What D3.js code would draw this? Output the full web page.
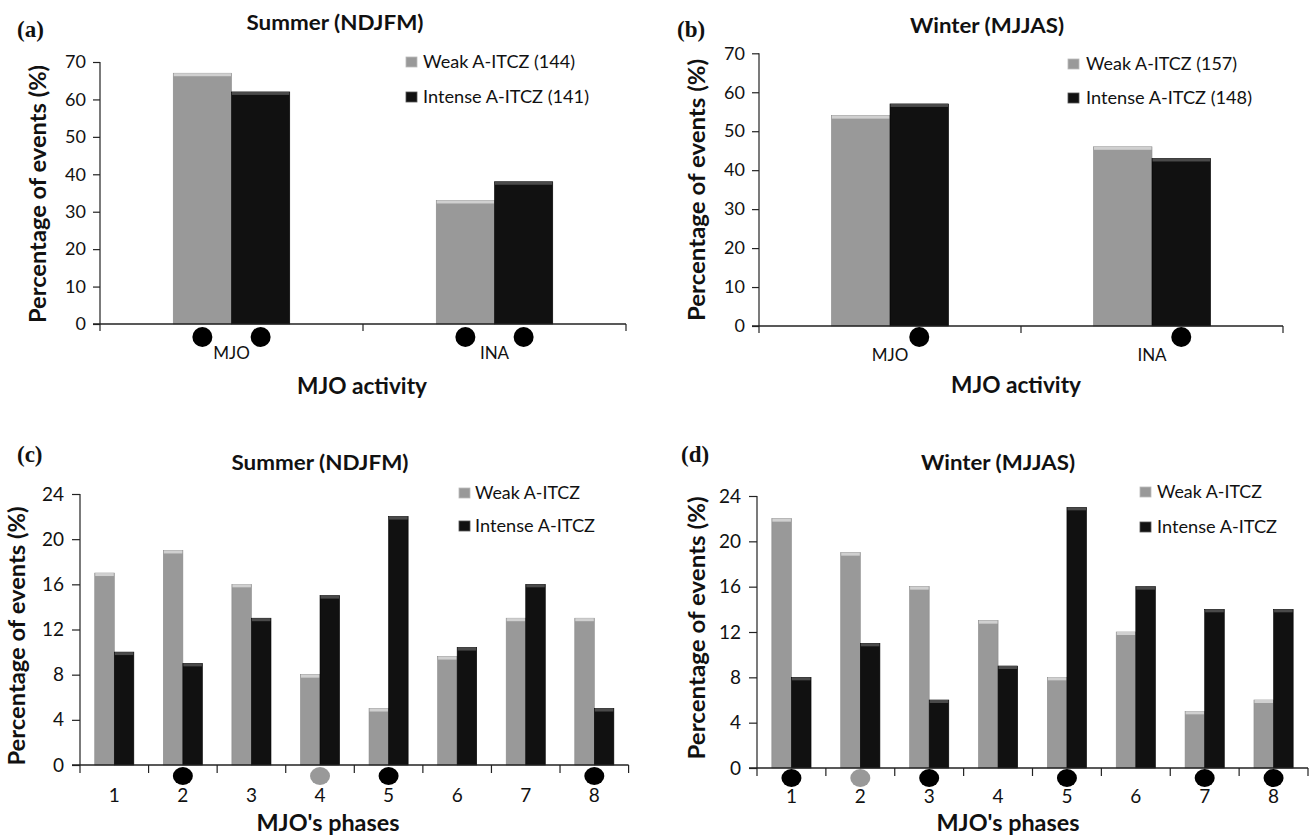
<!DOCTYPE html>
<html><head><meta charset="utf-8">
<script src="https://cdn.jsdelivr.net/npm/d3@7"></script>
<style>body{margin:0;background:#fff}svg{display:block}text{font-family:Lato,"Open Sans",sans-serif;fill:#111}</style>
</head><body>
<script>
// ---- data ----
const activityCats = ["MJO", "INA"];
const summerActWeak = [67, 33];
const summerActIntense = [62, 38];
const winterActWeak = [54, 46];
const winterActIntense = [57, 43];
// significance markers for panels a/b: per series
const summerActMarkWeak = [true, true];
const summerActMarkIntense = [true, true];
const winterActMarkWeak = [false, false];
const winterActMarkIntense = [true, true];

const phaseCats = ["1","2","3","4","5","6","7","8"];
const summerPhaseWeak = [17, 19, 16, 8, 5, 9.6, 13, 13];
const summerPhaseIntense = [10, 9, 13, 15, 22, 10.4, 16, 5];
const winterPhaseWeak = [22, 19, 16, 13, 8, 12, 5, 6];
const winterPhaseIntense = [8, 11, 6, 9, 23, 16, 14, 14];
// significance markers for panels c/d: per phase (group centre)
const summerPhaseMark = [null, "black", null, "gray", "black", null, null, "black"];
const winterPhaseMark = ["black", "gray", "black", null, "black", null, "black", "black"];

const actTicks = [0,10,20,30,40,50,60,70];
const phaseTicks = [0,4,8,12,16,20,24];

const W = 1314, H = 837;
const svg = d3.select("body").append("svg").attr("width", W).attr("height", H);

const COL = {weak:"#999999", weakTop:"#d0d0d0", intense:"#111111", intenseTop:"#4a4a4a", gray:"#999999"};

function fitText(sel, len) {
  if (len) sel.attr("textLength", len).attr("lengthAdjust", "spacingAndGlyphs");
  return sel;
}

function panel(o) {
  const g = svg.append("g");
  const y = d3.scaleLinear().domain([0, o.ymax]).range([o.y0, o.y1]);
  const x = d3.scaleBand().domain(o.cats).range([o.x0, o.x1]).paddingInner(0).paddingOuter(0);
  const gw = x.bandwidth() * o.groupFrac;
  const xs = d3.scaleBand().domain(["weak","intense"]).range([0, gw]);
  const rows = o.cats.map((c,i)=>({c, i, weak:o.weak[i], intense:o.intense[i]}));

  // bars
  ["weak","intense"].forEach(s => {
    const bx = d => x(d.c) + x.bandwidth()/2 - gw/2 + xs(s);
    g.selectAll(null).data(rows).enter().append("rect")
      .attr("x", bx).attr("width", xs.bandwidth())
      .attr("y", d => y(d[s])).attr("height", d => y(0) - y(d[s]))
      .attr("fill", COL[s]).attr("stroke", s==="weak" ? "#8a8a8a" : "#000").attr("stroke-width", 0.6);
    g.selectAll(null).data(rows).enter().append("rect")
      .attr("x", d => bx(d) + 0.5).attr("width", xs.bandwidth() - 1)
      .attr("y", d => y(d[s])).attr("height", 3)
      .attr("fill", COL[s+"Top"]);
  });

  // y axis
  const ya = g.append("g").attr("transform", `translate(${o.x0},0)`)
    .call(d3.axisLeft(y).tickValues(o.ticks).tickSize(o.tickSize).tickPadding(o.tickPad));
  ya.select(".domain").attr("stroke", "#222").attr("stroke-width", 1.2).attr("d", `M0,${y(o.ymax)}V${y(0)}`);
  ya.selectAll(".tick line").attr("stroke", "#222").attr("stroke-width", 1.2);
  ya.selectAll(".tick text").style("font-size", o.tickFont + "px").style("font-family", "Lato,sans-serif").attr("fill", "#111");

  // x axis line + boundary ticks
  g.append("line").attr("x1", o.x0 - o.tickSize).attr("x2", o.x1).attr("y1", y(0)).attr("y2", y(0))
    .attr("stroke", "#222").attr("stroke-width", 1.5);
  const bounds = o.cats.map(c => x(c)).concat([o.x1]);
  g.selectAll(null).data(bounds).enter().append("line")
    .attr("x1", d => d).attr("x2", d => d).attr("y1", y(0)).attr("y2", y(0) + o.xTick)
    .attr("stroke", "#222").attr("stroke-width", 1.2);

  // markers
  if (o.markWeak) {
    ["weak","intense"].forEach(s => {
      const m = s === "weak" ? o.markWeak : o.markIntense;
      g.selectAll(null).data(rows.filter(d => m[d.i])).enter().append("ellipse")
        .attr("cx", d => x(d.c) + x.bandwidth()/2 - gw/2 + xs(s) + xs.bandwidth()/2)
        .attr("cy", y(0) + o.markDy).attr("rx", o.markRx).attr("ry", o.markRy)
        .attr("fill", "#000");
    });
  }
  if (o.markGroup) {
    g.selectAll(null).data(rows.filter(d => o.markGroup[d.i])).enter().append("ellipse")
      .attr("cx", d => x(d.c) + x.bandwidth()/2)
      .attr("cy", y(0) + o.markDy).attr("rx", o.markRx).attr("ry", o.markRy)
      .attr("fill", d => o.markGroup[d.i] === "gray" ? COL.gray : "#000");
  }

  // category labels
  g.selectAll(null).data(rows).enter().append("text")
    .attr("x", d => x(d.c) + x.bandwidth()/2).attr("y", o.catLabelY)
    .attr("text-anchor", "middle").style("font-size", o.catFont + "px").text(d => d.c);

  // titles
  fitText(g.append("text").attr("x", o.titleX).attr("y", o.titleY).attr("text-anchor", "middle")
    .style("font-size", "20px").style("font-weight", "bold").text(o.title), o.titleLen);
  g.append("text").attr("x", o.tagX).attr("y", o.tagY)
    .style("font-family", "'Liberation Serif',serif").style("font-size", "23px").style("font-weight", "bold").text(o.tag);
  fitText(g.append("text").attr("x", o.xlabX).attr("y", o.xlabY).attr("text-anchor", "middle")
    .style("font-size", "22px").style("font-weight", "bold").text(o.xlab), o.xlabLen);
  fitText(g.append("text").attr("transform", `translate(${o.ylabX},${o.ylabY}) rotate(-90)`).attr("text-anchor", "middle")
    .attr("dy", "0.35em")
    .style("font-size", "23px").style("font-weight", "bold").text("Percentage of events (%)"), o.ylabLen);

  // legend
  const leg = [{k:"weak", t:o.legWeak, len:o.legLen[0]}, {k:"intense", t:o.legIntense, len:o.legLen[1]}];
  leg.forEach((l, i) => {
    const ly = o.legY[i];
    g.append("rect").attr("x", o.legX).attr("y", ly - 5).attr("width", 11).attr("height", 10)
      .attr("fill", COL[l.k]).attr("stroke", l.k==="weak" ? "#bbb" : "#555").attr("stroke-width", 0.8);
    fitText(g.append("text").attr("x", o.legTextX).attr("y", ly).attr("dy", "0.36em")
      .style("font-size", o.legFont + "px").text(l.t), l.len);
  });
}

panel({cats:activityCats, weak:summerActWeak, intense:summerActIntense, ymax:70, ticks:actTicks,
  x0:100, x1:626, y0:324, y1:62, groupFrac:0.443, tickFont:18, tickSize:7, tickPad:7, xTick:7,
  catFont:17, catLabelY:359,
  markWeak:summerActMarkWeak, markIntense:summerActMarkIntense, markDy:13, markRx:10, markRy:10,
  title:"Summer (NDJFM)", titleLen:177, titleX:335, titleY:30, tag:"(a)", tagX:17, tagY:37,
  xlab:"MJO activity", xlabLen:130, xlabX:362, xlabY:394, ylabX:38, ylabY:194, ylabLen:258,
  legWeak:"Weak A-ITCZ (144)", legIntense:"Intense A-ITCZ (141)", legLen:[152,166],
  legX:406, legTextX:423, legY:[62,97], legFont:18});

panel({cats:activityCats, weak:winterActWeak, intense:winterActIntense, ymax:70, ticks:actTicks,
  x0:759, x1:1283, y0:326, y1:53.3, groupFrac:0.447, tickFont:18, tickSize:7, tickPad:7, xTick:7,
  catFont:17, catLabelY:361,
  markWeak:winterActMarkWeak, markIntense:winterActMarkIntense, markDy:11, markRx:10, markRy:10,
  title:"Winter (MJJAS)", titleLen:154, titleX:987, titleY:33, tag:"(b)", tagX:677, tagY:37,
  xlab:"MJO activity", xlabLen:130, xlabX:1016, xlabY:393, ylabX:697, ylabY:190, ylabLen:262,
  legWeak:"Weak A-ITCZ (157)", legIntense:"Intense A-ITCZ (148)", legLen:[151,166],
  legX:1068, legTextX:1086, legY:[64,98], legFont:18});

panel({cats:phaseCats, weak:summerPhaseWeak, intense:summerPhaseIntense, ymax:24, ticks:phaseTicks,
  x0:80, x1:628.6, y0:765, y1:494, groupFrac:0.57, tickFont:19, tickSize:8, tickPad:8, xTick:8,
  catFont:19, catLabelY:802,
  markGroup:summerPhaseMark, markDy:11, markRx:10, markRy:9,
  title:"Summer (NDJFM)", titleLen:177, titleX:320, titleY:470, tag:"(c)", tagX:17, tagY:462,
  xlab:"MJO's phases", xlabLen:143, xlabX:328, xlabY:831, ylabX:17, ylabY:636, ylabLen:259,
  legWeak:"Weak A-ITCZ", legIntense:"Intense A-ITCZ", legLen:[105,120],
  legX:459, legTextX:475, legY:[493,526], legFont:18});

panel({cats:phaseCats, weak:winterPhaseWeak, intense:winterPhaseIntense, ymax:24, ticks:phaseTicks,
  x0:757, x1:1308, y0:768, y1:496, groupFrac:0.569, tickFont:19, tickSize:8, tickPad:8, xTick:8,
  catFont:19, catLabelY:803,
  markGroup:winterPhaseMark, markDy:10, markRx:10, markRy:9,
  title:"Winter (MJJAS)", titleLen:154, titleX:998, titleY:470, tag:"(d)", tagX:681, tagY:462,
  xlab:"MJO's phases", xlabLen:143, xlabX:1008, xlabY:831, ylabX:697, ylabY:628, ylabLen:263,
  legWeak:"Weak A-ITCZ", legIntense:"Intense A-ITCZ", legLen:[105,120],
  legX:1140, legTextX:1157, legY:[492,527], legFont:18});
</script>
</body></html>
